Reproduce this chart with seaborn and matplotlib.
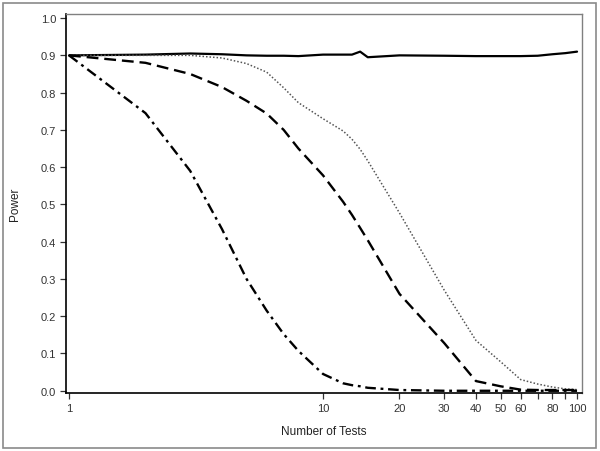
import numpy as np
import pandas as pd
import matplotlib
matplotlib.use("Agg")
import matplotlib.pyplot as plt
from matplotlib.patches import Rectangle
import seaborn as sns

# number of tests (shared x values)
tests = [1, 2, 3, 4, 5, 6, 7, 8, 10, 12, 13, 14, 15, 20, 30, 40, 50, 60, 70, 80, 90, 100]

# power curves
power_solid = [0.900, 0.902, 0.905, 0.903, 0.900, 0.899, 0.899, 0.898, 0.902, 0.902, 0.902,
               0.910, 0.895, 0.900, 0.899, 0.898, 0.898, 0.898, 0.899, 0.903, 0.906, 0.910]
power_dotted = [0.900, 0.900, 0.900, 0.893, 0.878, 0.855, 0.813, 0.773, 0.730, 0.697, 0.675,
                0.648, 0.617, 0.477, 0.270, 0.135, 0.078, 0.030, 0.018, 0.010, 0.005, 0.003]
power_dashed = [0.900, 0.880, 0.850, 0.815, 0.778, 0.744, 0.700, 0.650, 0.578, 0.507, 0.472,
                0.437, 0.404, 0.260, 0.128, 0.026, 0.012, 0.003, 0.002, 0.002, 0.002, 0.002]
power_dashdot = [0.900, 0.745, 0.590, 0.434, 0.300, 0.215, 0.152, 0.107, 0.045, 0.020, 0.015,
                 0.012, 0.008, 0.002, 0.000, 0.000, 0.000, 0.000, 0.000, 0.000, 0.000, 0.000]

xtick_vals = [1, 10, 20, 30, 40, 50, 60, 70, 80, 90, 100]
xtick_labels = ["1", "10", "20", "30", "40", "50", "60", "", "80", "", "100"]
ytick_vals = [0.0, 0.1, 0.2, 0.3, 0.4, 0.5, 0.6, 0.7, 0.8, 0.9, 1.0]

sns.set_style("ticks")
plt.rcParams["font.family"] = ["Liberation Sans", "DejaVu Sans"]

fig = plt.figure(figsize=(6, 4.52), dpi=100)
ax = fig.add_axes([66 / 600, 1 - 394 / 452, (582 - 66) / 600, (394 - 15) / 452])

# outer gray frame
fig.patches.append(Rectangle((3 / 600, 3 / 452), 593 / 600, 445 / 452, transform=fig.transFigure,
                             fill=False, edgecolor="#8a8a8a", linewidth=1.2))

styles = [
    (power_solid, "-", "black", 1.6),
    (power_dotted, (0, (1, 1.3)), "#555555", 1.1),
    (power_dashed, (0, (5, 2.5)), "black", 1.7),
    (power_dashdot, (0, (4.5, 2, 1.2, 2)), "black", 1.7),
]
for vals, ls, col, lw in styles:
    df = pd.DataFrame({"tests": tests, "power": vals})
    sns.lineplot(data=df, x="tests", y="power", ax=ax, color=col, linewidth=lw,
                 linestyle=ls, legend=False)

ax.set_xscale("log")
ax.set_xlim(0.973, 104.6)
ax.set_ylim(-0.006, 1.011)
ax.set_xticks(xtick_vals)
ax.set_xticklabels(xtick_labels)
ax.xaxis.set_minor_locator(matplotlib.ticker.NullLocator())
ax.set_yticks(ytick_vals)
ax.set_yticklabels([f"{v:.1f}" for v in ytick_vals])

ax.tick_params(axis="both", direction="out", length=4, width=0.9, color="#333333",
               labelsize=8, labelcolor="#333333", pad=3)
for side in ["left", "bottom"]:
    ax.spines[side].set_color("black")
    ax.spines[side].set_linewidth(1.2)
for side in ["top", "right"]:
    ax.spines[side].set_visible(True)
    ax.spines[side].set_color("#808080")
    ax.spines[side].set_linewidth(1.0)

ax.set_xlabel("Number of Tests", fontsize=8.5, color="#222222", labelpad=9)
ax.set_ylabel("Power", fontsize=8.5, color="#222222", labelpad=14)

fig.savefig("out.png", dpi=100)
